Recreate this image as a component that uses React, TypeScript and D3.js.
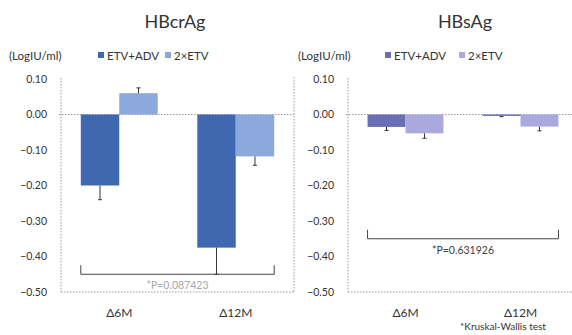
import { useRef, useEffect } from "react";
import * as d3 from "d3";

const categories = ["Δ6M", "Δ12M"];
const seriesNames = ["ETV+ADV", "2×ETV"];
const yTicks = [0.1, 0, -0.1, -0.2, -0.3, -0.4, -0.5];

// HBcrAg
const hbcrEtvAdv = [-0.2, -0.375];
const hbcrEtvAdvErr = [0.04, 0.075];
const hbcr2Etv = [0.06, -0.118];
const hbcr2EtvErr = [0.015, 0.025];

// HBsAg
const hbsEtvAdv = [-0.035, -0.004];
const hbsEtvAdvErr = [0.01, 0.002];
const hbs2Etv = [-0.053, -0.034];
const hbs2EtvErr = [0.014, 0.012];

const FONT = "Lato, 'Open Sans', sans-serif";

const panels = [
  {
    title: "HBcrAg",
    values: [hbcrEtvAdv, hbcr2Etv],
    errors: [hbcrEtvAdvErr, hbcr2EtvErr],
    colors: ["#4068b1", "#8ca8dc"],
    pText: "*P=0.087423",
    pColor: "#a8a8a8",
    pLevel: -0.45,
    left: 61,
    right: 294,
    frameRight: 294,
    titleX: 175,
    unitX: 9,
    legendX: [98, 165],
  },
  {
    title: "HBsAg",
    values: [hbsEtvAdv, hbs2Etv],
    errors: [hbsEtvAdvErr, hbs2EtvErr],
    colors: ["#6a6eb2", "#aaa9de"],
    pText: "*P=0.631926",
    pColor: "#404040",
    pLevel: -0.35,
    left: 348,
    right: 578,
    frameRight: 572,
    titleX: 465,
    unitX: 298,
    legendX: [385, 459],
  },
];

const App = () => {
  const svgRef = useRef<SVGSVGElement>(null);

  useEffect(() => {
    const svg = d3.select(svgRef.current);
    svg.selectAll("*").remove();

    const y = d3.scaleLinear().domain([-0.5, 0.1]).range([292, 79]);
    const fmt = d3.format(".2f");

    panels.forEach((p) => {
      const g = svg.append("g");
      const x0 = d3
        .scaleBand()
        .domain(categories)
        .range([p.left, p.right])
        .paddingInner(0.34)
        .paddingOuter(0.17);
      const x1 = d3
        .scaleBand()
        .domain(seriesNames)
        .range([0, x0.bandwidth()]);

      // title + unit + legend
      g.append("text")
        .attr("x", p.titleX)
        .attr("y", 28)
        .attr("text-anchor", "middle")
        .style("font", `18px ${FONT}`)
        .attr("fill", "#333")
        .text(p.title);

      g.append("text")
        .attr("x", p.unitX)
        .attr("y", 60)
        .style("font", `11.5px ${FONT}`)
        .attr("fill", "#333")
        .text("(LogIU/ml)");

      seriesNames.forEach((s, i) => {
        g.append("rect")
          .attr("x", p.legendX[i])
          .attr("y", 52)
          .attr("width", 6)
          .attr("height", 6)
          .attr("fill", p.colors[i]);
        g.append("text")
          .attr("x", p.legendX[i] + 9)
          .attr("y", 60)
          .style("font", `11.5px ${FONT}`)
          .attr("fill", "#333")
          .text(s);
      });

      // frame lines (dotted)
      const dot = (x1_: number, y1: number, x2: number, y2: number) =>
        g
          .append("line")
          .attr("x1", x1_)
          .attr("y1", y1)
          .attr("x2", x2)
          .attr("y2", y2)
          .attr("stroke", "#9a9a9a")
          .attr("stroke-width", 1)
          .attr("stroke-dasharray", "1.5,1.5");

      dot(p.left, y(0.1) - 1, p.left, y(-0.5));
      dot(p.left, y(-0.5), p.frameRight, y(-0.5));
      dot(p.left - 2, y(0), p.frameRight, y(0));
      if (p.frameRight < 572) dot(p.frameRight, y(0.1) - 2, p.frameRight, y(-0.5));

      // y tick labels
      yTicks.forEach((t) => {
        g.append("text")
          .attr("x", p.left - 14)
          .attr("y", y(t))
          .attr("dy", "0.35em")
          .attr("text-anchor", "end")
          .style("font", `10.5px ${FONT}`)
          .attr("fill", "#333")
          .text(fmt(t));
      });

      // x labels
      categories.forEach((c) => {
        g.append("text")
          .attr("x", (x0(c) ?? 0) + x0.bandwidth() / 2)
          .attr("y", 317)
          .attr("text-anchor", "middle")
          .style("font", `12px ${FONT}`)
          .attr("fill", "#333")
          .text(c);
      });

      // bars + error bars
      seriesNames.forEach((s, si) => {
        categories.forEach((c, ci) => {
          const v = p.values[si][ci];
          const e = p.errors[si][ci];
          const bx = (x0(c) ?? 0) + (x1(s) ?? 0);
          const bw = x1.bandwidth();
          g.append("rect")
            .attr("x", bx)
            .attr("y", y(Math.max(0, v)))
            .attr("width", bw)
            .attr("height", Math.max(1, Math.abs(y(v) - y(0))))
            .attr("fill", p.colors[si]);
          const end = v >= 0 ? v + e : v - e;
          const cx = bx + bw / 2;
          g.append("line")
            .attr("x1", cx)
            .attr("x2", cx)
            .attr("y1", y(v))
            .attr("y2", y(end))
            .attr("stroke", "#333")
            .attr("stroke-width", 1);
          g.append("line")
            .attr("x1", cx - 2)
            .attr("x2", cx + 2)
            .attr("y1", y(end))
            .attr("y2", y(end))
            .attr("stroke", "#333")
            .attr("stroke-width", 1);
        });
      });

      // significance bracket
      const bxL = x0(categories[0]) ?? 0;
      const bxR = (x0(categories[1]) ?? 0) + x0.bandwidth();
      const by = y(p.pLevel);
      g.append("path")
        .attr("d", `M${bxL},${by - 9}V${by}H${bxR}V${by - 9}`)
        .attr("fill", "none")
        .attr("stroke", "#444")
        .attr("stroke-width", 1);
      g.append("text")
        .attr("x", (bxL + bxR) / 2)
        .attr("y", by + 15)
        .attr("text-anchor", "middle")
        .style("font", `10.5px ${FONT}`)
        .attr("fill", p.pColor)
        .text(p.pText);
    });

    svg
      .append("text")
      .attr("x", 460)
      .attr("y", 330)
      .style("font", `10px ${FONT}`)
      .attr("fill", "#333")
      .text("*Kruskal-Wallis  test");
  }, []);

  return (
    <svg
      ref={svgRef}
      width={572}
      height={335}
      style={{ position: "absolute", left: 0, top: 0, background: "#fff" }}
    ></svg>
  );
};

export default App;
